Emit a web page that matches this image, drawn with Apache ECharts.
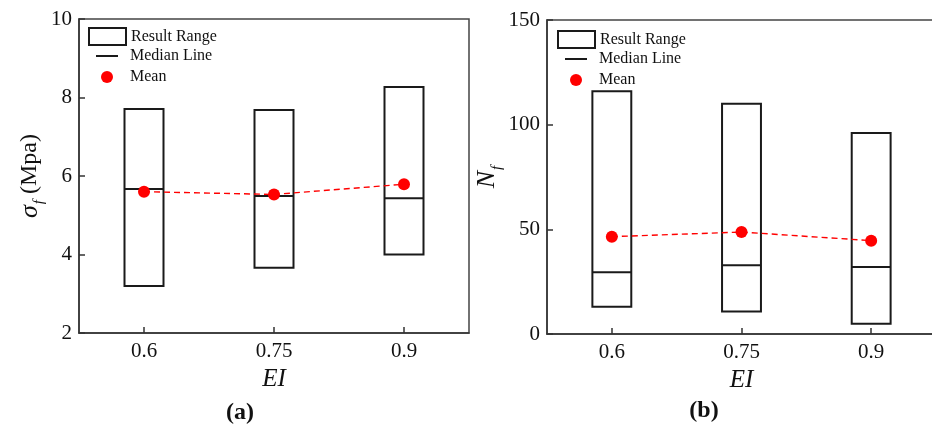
<!DOCTYPE html>
<html>
<head>
<meta charset="utf-8">
<script src="https://cdn.jsdelivr.net/npm/echarts@6/dist/echarts.min.js"></script>
<style>
  html, body { margin: 0; padding: 0; background: #fff; }
  #chart { width: 932px; height: 426px; }
</style>
</head>
<body>
<div id="chart"></div>
<script>
// categories (EI)
const eiLabels = ['0.6', '0.75', '0.9']

// panel (a): sigma_f (Mpa)
const sigmaMin = [3.20, 3.66, 4.00]
const sigmaMax = [7.71, 7.68, 8.27]
const sigmaMedian = [5.67, 5.49, 5.43]
const sigmaMean = [5.60, 5.53, 5.79]

// panel (b): N_f
const nfMin = [13.0, 10.8, 4.9]
const nfMax = [116, 110, 96]
const nfMedian = [29.5, 32.8, 32.0]
const nfMean = [46.5, 48.7, 44.6]

const FONT = '"Liberation Serif", "Times New Roman", serif'
const INK = '#1a1a1a'

const chart = echarts.init(document.getElementById('chart'))

function rangeData(lo, hi) {
  return eiLabels.map((c, i) => [i, lo[i], hi[i]])
}
function medianData(med) {
  return eiLabels.map((c, i) => [i, med[i]])
}

// box = min..max of results, 30% of a category wide
function renderBox(params, api) {
  const x = api.value(0)
  const top = api.coord([x, api.value(2)])
  const bot = api.coord([x, api.value(1)])
  const w = api.size([1, 0])[0] * 0.3
  return {
    type: 'rect',
    shape: { x: top[0] - w / 2, y: top[1], width: w, height: bot[1] - top[1] },
    style: { fill: 'none', stroke: INK, lineWidth: 2 },
  }
}
function renderMedian(params, api) {
  const x = api.value(0)
  const p = api.coord([x, api.value(1)])
  const w = api.size([1, 0])[0] * 0.3
  return {
    type: 'line',
    shape: { x1: p[0] - w / 2, y1: p[1], x2: p[0] + w / 2, y2: p[1] },
    style: { stroke: INK, lineWidth: 2 },
  }
}

// one legend per row so each icon can have its own size
function legends(left, top) {
  const base = {
    orient: 'vertical',
    selectedMode: false,
    textStyle: { fontFamily: FONT, fontSize: 16, color: '#111' },
    padding: 0,
  }
  return [
    Object.assign({}, base, {
      left: left, top: top,
      itemWidth: 37, itemHeight: 17,
      data: [{ name: 'Result Range', icon: 'rect', itemStyle: { color: '#fff', borderColor: INK, borderWidth: 2 } }],
    }),
    Object.assign({}, base, {
      left: left + 8, top: top + 21,
      itemWidth: 22, itemHeight: 2,
      textStyle: Object.assign({}, base.textStyle, { padding: [0, 0, 0, 7] }),
      data: [{ name: 'Median Line', icon: 'rect', itemStyle: { color: INK, borderWidth: 0 } }],
    }),
    Object.assign({}, base, {
      left: left + 13, top: top + 42,
      itemWidth: 12, itemHeight: 12,
      textStyle: Object.assign({}, base.textStyle, { padding: [0, 0, 0, 12] }),
      data: [{ name: 'Mean', icon: 'circle', itemStyle: { color: '#ff0000', borderWidth: 0 } }],
    }),
  ]
}

function xAxis(gridIndex) {
  return {
    type: 'category',
    gridIndex: gridIndex,
    data: eiLabels,
    boundaryGap: true,
    name: 'EI',
    nameLocation: 'middle',
    nameGap: 31,
    nameTextStyle: { fontFamily: FONT, fontSize: 25, fontStyle: 'italic', color: '#111' },
    axisLine: { lineStyle: { color: '#333', width: 1.5 } },
    axisTick: { show: true, inside: true, alignWithLabel: true, length: 6, lineStyle: { color: '#333', width: 1.5 } },
    axisLabel: { fontFamily: FONT, fontSize: 21, color: '#111', margin: 8 },
    splitLine: { show: false },
  }
}

function yAxis(gridIndex, min, max, interval, name, nameGap) {
  return {
    type: 'value',
    gridIndex: gridIndex,
    min: min, max: max, interval: interval,
    name: name,
    nameLocation: 'middle',
    nameRotate: 90,
    nameGap: nameGap,
    nameTextStyle: {
      fontFamily: FONT, fontSize: 24, color: '#111',
      rich: {
        i: { fontFamily: FONT, fontSize: 26, fontStyle: 'italic', color: '#111', lineHeight: 34 },
        s: { fontFamily: FONT, fontSize: 15, fontStyle: 'italic', color: '#111', verticalAlign: 'bottom', lineHeight: 15, padding: [0, 0, 0, 1] },
        n: { fontFamily: FONT, fontSize: 24, color: '#111', lineHeight: 34 },
      },
    },
    axisLine: { show: true, lineStyle: { color: '#333', width: 1.5 } },
    axisTick: { show: true, inside: true, length: 6, lineStyle: { color: '#333', width: 1.5 } },
    axisLabel: { fontFamily: FONT, fontSize: 21, color: '#111', margin: 7 },
    splitLine: { show: false },
  }
}

function meanSeries(idx, data) {
  return {
    name: 'Mean',
    type: 'line',
    xAxisIndex: idx, yAxisIndex: idx,
    data: data,
    symbol: 'circle',
    symbolSize: 12,
    itemStyle: { color: '#ff0000' },
    lineStyle: { color: '#ff0000', width: 1.4, type: [6, 4] },
    z: 5,
  }
}

const option = {
  animation: false,
  backgroundColor: '#fff',
  title: [
    { text: '(a)', left: 235, top: 396, textAlign: 'center',
      textStyle: { fontFamily: FONT, fontSize: 24, fontWeight: 'bold', color: '#111' } },
    { text: '(b)', left: 699, top: 394, textAlign: 'center',
      textStyle: { fontFamily: FONT, fontSize: 24, fontWeight: 'bold', color: '#111' } },
  ],
  legend: legends(88, 27).concat(legends(557, 30)),
  grid: [
    { left: 79, top: 19, width: 390, height: 314, show: true, borderColor: '#444', borderWidth: 1.5,
      backgroundColor: 'transparent', outerBoundsMode: 'none', containLabel: false },
    { left: 547, top: 20, width: 389, height: 314, show: true, borderColor: '#444', borderWidth: 1.5,
      backgroundColor: 'transparent', outerBoundsMode: 'none', containLabel: false },
  ],
  xAxis: [xAxis(0), xAxis(1)],
  yAxis: [
    yAxis(0, 2, 10, 2, '{i|σ}{s|f}{n| (Mpa)}', 32),
    yAxis(1, 0, 150, 50, '{i|N}{s|f}', 35),
  ],
  series: [
    { name: 'Result Range', type: 'custom', xAxisIndex: 0, yAxisIndex: 0, renderItem: renderBox, data: rangeData(sigmaMin, sigmaMax), encode: { x: 0, y: [1, 2] } },
    { name: 'Median Line', type: 'custom', xAxisIndex: 0, yAxisIndex: 0, renderItem: renderMedian, data: medianData(sigmaMedian), encode: { x: 0, y: 1 } },
    meanSeries(0, sigmaMean),
    { name: 'Result Range', type: 'custom', xAxisIndex: 1, yAxisIndex: 1, renderItem: renderBox, data: rangeData(nfMin, nfMax), encode: { x: 0, y: [1, 2] } },
    { name: 'Median Line', type: 'custom', xAxisIndex: 1, yAxisIndex: 1, renderItem: renderMedian, data: medianData(nfMedian), encode: { x: 0, y: 1 } },
    meanSeries(1, nfMean),
  ],
}

chart.setOption(option)
</script>
</body>
</html>
